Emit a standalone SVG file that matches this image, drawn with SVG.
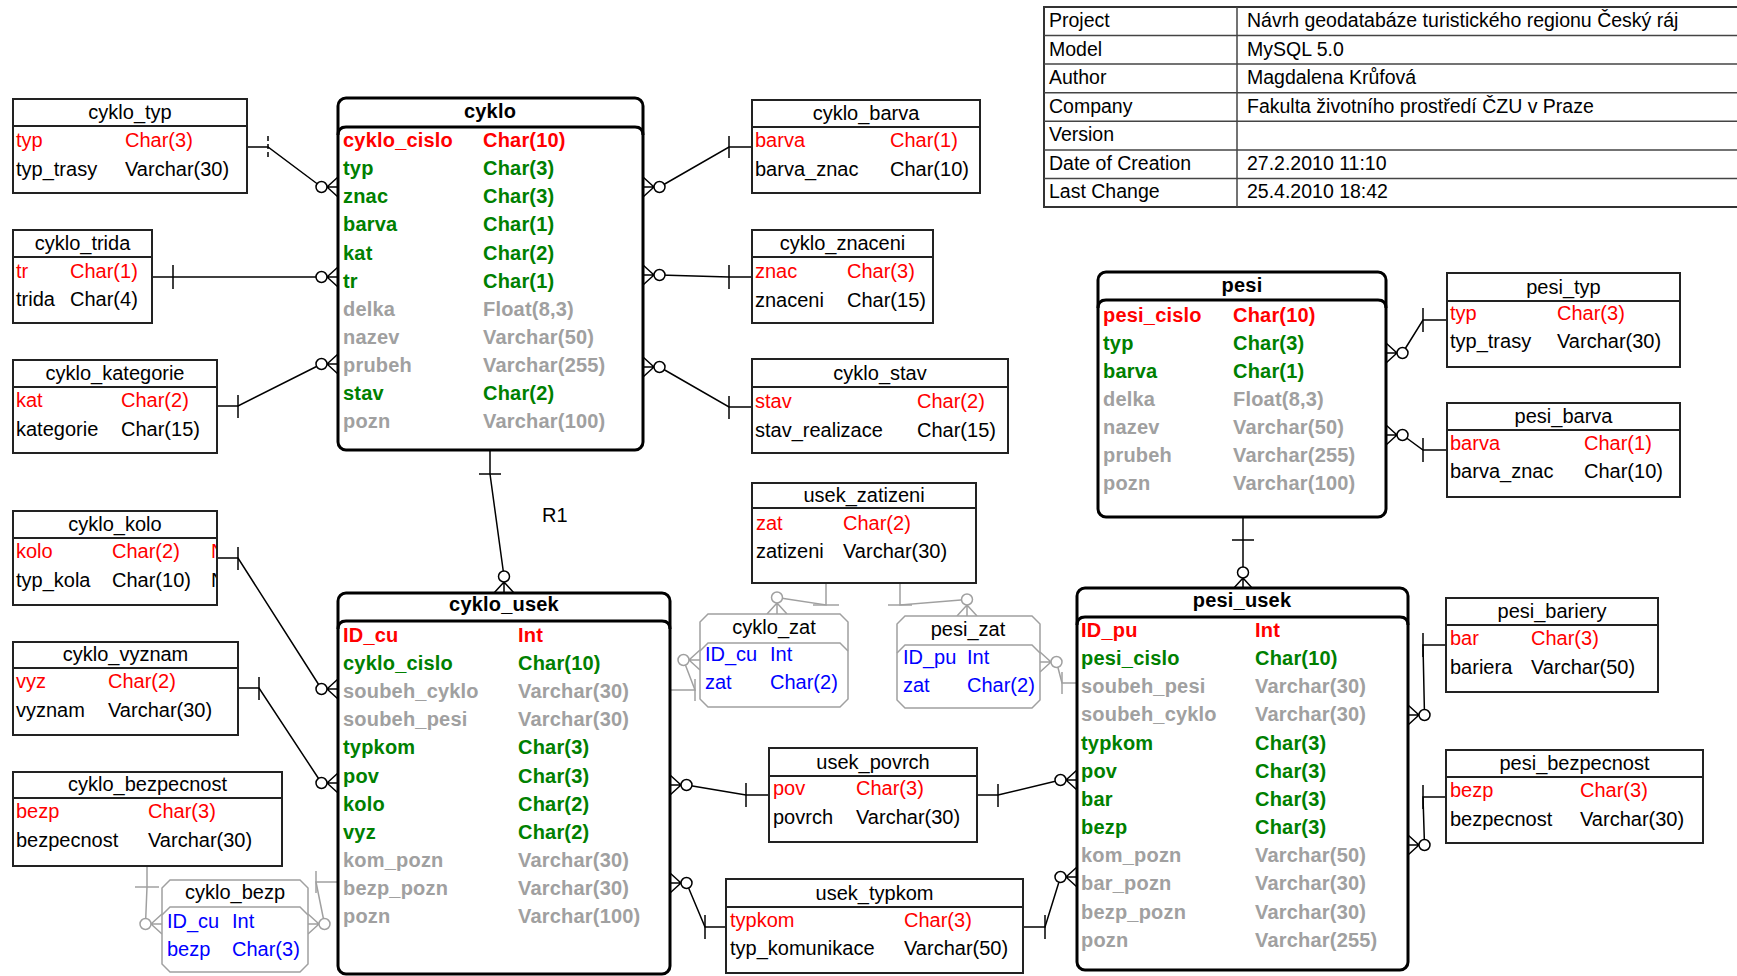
<svg xmlns="http://www.w3.org/2000/svg" xmlns:xlink="http://www.w3.org/1999/xlink" width="1737" height="976" viewBox="0 0 1737 976">
<style>
text{font-family:"Liberation Sans",Arial,sans-serif;font-size:20px;fill:#000}
.b{font-weight:bold;letter-spacing:0.2px}
.pk{fill:#ff0000}
.fk{fill:#008000}
.nk{fill:#a0a0a0}
.bl{fill:#0000ff}
.mid{text-anchor:middle}
.box{fill:#fff;stroke:#222;stroke-width:2}
.mbox{fill:#fff;stroke:#000;stroke-width:3}
.mline{fill:none;stroke:#000;stroke-width:3}
.gbox{fill:#fff;stroke:#a0a0a0;stroke-width:1.5}
.gsep{fill:none;stroke:#a0a0a0;stroke-width:1.5}
.sep{stroke:#222;stroke-width:2}
.ln{fill:none;stroke:#000;stroke-width:1.5}
.gl{fill:none;stroke:#a0a0a0;stroke-width:1.5}
.info text{font-size:19.5px}
.ig{stroke:#444;stroke-width:1.5}
</style>
<defs>
<g id="cf"><path d="M-11,0 L0,-10 M-11,0 L0,0 M-11,0 L0,10" fill="none"/><circle cx="-16.5" cy="0" r="5.5" fill="#fff"/></g>
<clipPath id="kolo-clip"><rect x="13" y="511" width="203" height="94"/></clipPath>
</defs>

<!-- info table -->
<g id="info" class="info">
<rect x="1044" y="7" width="700" height="200" fill="#fff" stroke="#333" stroke-width="2"/>
<line class="ig" x1="1237" y1="7" x2="1237" y2="207"/>
<line class="ig" x1="1044" y1="35.6" x2="1737" y2="35.6"/>
<line class="ig" x1="1044" y1="64.1" x2="1737" y2="64.1"/>
<line class="ig" x1="1044" y1="92.7" x2="1737" y2="92.7"/>
<line class="ig" x1="1044" y1="121.3" x2="1737" y2="121.3"/>
<line class="ig" x1="1044" y1="149.9" x2="1737" y2="149.9"/>
<line class="ig" x1="1044" y1="178.4" x2="1737" y2="178.4"/>
<text x="1049" y="27">Project</text><text x="1247" y="27">Návrh geodatabáze turistického regionu Český ráj</text>
<text x="1049" y="56">Model</text><text x="1247" y="56">MySQL 5.0</text>
<text x="1049" y="84">Author</text><text x="1247" y="84">Magdalena Krůfová</text>
<text x="1049" y="113">Company</text><text x="1247" y="113">Fakulta životního prostředí ČZU v Praze</text>
<text x="1049" y="141">Version</text>
<text x="1049" y="170">Date of Creation</text><text x="1247" y="170">27.2.2010 11:10</text>
<text x="1049" y="198">Last Change</text><text x="1247" y="198">25.4.2010 18:42</text>
</g>

<!-- connectors -->
<g id="connectors">
<!-- cyklo_typ -> cyklo -->
<path class="ln" d="M247,147 H268 L321.5,187"/>
<line class="ln" x1="268" y1="136" x2="268" y2="158" stroke-dasharray="5,3"/>
<use href="#cf" class="ln" transform="translate(338,187)"/>
<!-- cyklo_trida -> cyklo -->
<path class="ln" d="M152,277 H321.5"/>
<line class="ln" x1="173" y1="265" x2="173" y2="289"/>
<use href="#cf" class="ln" transform="translate(338,277)"/>
<!-- cyklo_kategorie -> cyklo -->
<path class="ln" d="M217,406 H238 L321.5,364"/>
<line class="ln" x1="238" y1="395" x2="238" y2="418"/>
<use href="#cf" class="ln" transform="translate(338,364)"/>
<!-- cyklo -> cyklo_barva -->
<path class="ln" d="M659.5,187 L729,147 H752"/>
<line class="ln" x1="729" y1="136" x2="729" y2="158"/>
<use href="#cf" class="ln" transform="translate(643,187) rotate(180)"/>
<!-- cyklo -> cyklo_znaceni -->
<path class="ln" d="M659.5,275 L729,277 H752"/>
<line class="ln" x1="729" y1="265" x2="729" y2="289"/>
<use href="#cf" class="ln" transform="translate(643,275) rotate(180)"/>
<!-- cyklo -> cyklo_stav -->
<path class="ln" d="M659.5,367 L729,407 H752"/>
<line class="ln" x1="729" y1="396" x2="729" y2="419"/>
<use href="#cf" class="ln" transform="translate(643,367) rotate(180)"/>
<!-- cyklo -> cyklo_usek (R1) -->
<path class="ln" d="M490,450 V474 L504,576.5"/>
<line class="ln" x1="479" y1="474" x2="501" y2="474"/>
<use href="#cf" class="ln" transform="translate(504,593) rotate(90)"/>
<!-- cyklo_kolo -> cyklo_usek -->
<path class="ln" d="M217,558 H238 L321.5,689"/>
<line class="ln" x1="238" y1="547" x2="238" y2="570"/>
<use href="#cf" class="ln" transform="translate(338,689)"/>
<!-- cyklo_vyznam -> cyklo_usek -->
<path class="ln" d="M238,688 H259 L321.5,783"/>
<line class="ln" x1="259" y1="677" x2="259" y2="700"/>
<use href="#cf" class="ln" transform="translate(338,783)"/>
<!-- cyklo_bezpecnost -> cyklo_bezp -->
<path class="gl" d="M147,866 V887 L145.5,924"/>
<line class="gl" x1="135" y1="887" x2="159" y2="887"/>
<use href="#cf" class="gl" transform="translate(162,924)"/>
<!-- cyklo_usek -> cyklo_bezp -->
<path class="gl" d="M338,882 H316 L324.5,924"/>
<line class="gl" x1="316" y1="871" x2="316" y2="893"/>
<use href="#cf" class="gl" transform="translate(308,924) rotate(180)"/>
<!-- usek_zatizeni -> cyklo_zat -->
<path class="gl" d="M826,583 V605 L777,597.5"/>
<line class="gl" x1="813" y1="605" x2="839" y2="605"/>
<use href="#cf" class="gl" transform="translate(777,614) rotate(90)"/>
<!-- usek_zatizeni -> pesi_zat -->
<path class="gl" d="M900,583 V605 L967,599.5"/>
<line class="gl" x1="888" y1="605" x2="912" y2="605"/>
<use href="#cf" class="gl" transform="translate(967,616) rotate(90)"/>
<!-- cyklo_usek -> cyklo_zat -->
<path class="gl" d="M670,690 H695 L683.5,660"/>
<line class="gl" x1="695" y1="679" x2="695" y2="701"/>
<use href="#cf" class="gl" transform="translate(700,660)"/>
<!-- pesi_usek -> pesi_zat -->
<path class="gl" d="M1056.5,662 L1062,683 H1077"/>
<line class="gl" x1="1062" y1="672" x2="1062" y2="694"/>
<use href="#cf" class="gl" transform="translate(1040,662) rotate(180)"/>
<!-- cyklo_usek -> usek_povrch -->
<path class="ln" d="M686.5,785 L746,795 H769"/>
<line class="ln" x1="746" y1="783" x2="746" y2="807"/>
<use href="#cf" class="ln" transform="translate(670,785) rotate(180)"/>
<!-- usek_povrch -> pesi_usek -->
<path class="ln" d="M977,795 H998 L1060.5,780"/>
<line class="ln" x1="998" y1="784" x2="998" y2="807"/>
<use href="#cf" class="ln" transform="translate(1077,780)"/>
<!-- cyklo_usek -> usek_typkom -->
<path class="ln" d="M686.5,883 L705,927 H726"/>
<line class="ln" x1="705" y1="915" x2="705" y2="939"/>
<use href="#cf" class="ln" transform="translate(670,883) rotate(180)"/>
<!-- usek_typkom -> pesi_usek -->
<path class="ln" d="M1023,927 H1045 L1060.5,877"/>
<line class="ln" x1="1045" y1="915" x2="1045" y2="939"/>
<use href="#cf" class="ln" transform="translate(1077,877)"/>
<!-- pesi -> pesi_usek -->
<path class="ln" d="M1243,517 V540 L1243,572.5"/>
<line class="ln" x1="1232" y1="540" x2="1254" y2="540"/>
<use href="#cf" class="ln" transform="translate(1243,589) rotate(90)"/>
<!-- pesi -> pesi_typ -->
<path class="ln" d="M1402.5,353 L1423,320 H1447"/>
<line class="ln" x1="1423" y1="308" x2="1423" y2="332"/>
<use href="#cf" class="ln" transform="translate(1386,353) rotate(180)"/>
<!-- pesi -> pesi_barva -->
<path class="ln" d="M1402.5,435 L1423,450 H1447"/>
<line class="ln" x1="1423" y1="438" x2="1423" y2="462"/>
<use href="#cf" class="ln" transform="translate(1386,435) rotate(180)"/>
<!-- pesi_usek -> pesi_bariery -->
<path class="ln" d="M1424.5,715 L1423,645 H1446"/>
<line class="ln" x1="1423" y1="633" x2="1423" y2="657"/>
<use href="#cf" class="ln" transform="translate(1408,715) rotate(180)"/>
<!-- pesi_usek -> pesi_bezpecnost -->
<path class="ln" d="M1424.5,845 L1423,797 H1446"/>
<line class="ln" x1="1423" y1="785" x2="1423" y2="809"/>
<use href="#cf" class="ln" transform="translate(1408,845) rotate(180)"/>
<text x="542" y="522">R1</text>
</g>

<!-- small lookup tables -->
<g id="cyklo_typ">
<rect class="box" x="13" y="99" width="234" height="94"/><line class="sep" x1="13" y1="126" x2="247" y2="126"/>
<text class="mid" x="130" y="119">cyklo_typ</text>
<text class="pk" x="16" y="147">typ</text><text class="pk" x="125" y="147">Char(3)</text>
<text x="16" y="176">typ_trasy</text><text x="125" y="176">Varchar(30)</text>
</g>
<g id="cyklo_trida">
<rect class="box" x="13" y="230" width="139" height="93"/><line class="sep" x1="13" y1="257" x2="152" y2="257"/>
<text class="mid" x="82.5" y="250">cyklo_trida</text>
<text class="pk" x="16" y="278">tr</text><text class="pk" x="70" y="278">Char(1)</text>
<text x="16" y="306">trida</text><text x="70" y="306">Char(4)</text>
</g>
<g id="cyklo_kategorie">
<rect class="box" x="13" y="360" width="204" height="93"/><line class="sep" x1="13" y1="387" x2="217" y2="387"/>
<text class="mid" x="115" y="380">cyklo_kategorie</text>
<text class="pk" x="16" y="407">kat</text><text class="pk" x="121" y="407">Char(2)</text>
<text x="16" y="436">kategorie</text><text x="121" y="436">Char(15)</text>
</g>
<g id="cyklo_kolo">
<rect class="box" x="13" y="511" width="204" height="94"/><line class="sep" x1="13" y1="538" x2="217" y2="538"/>
<text class="mid" x="115" y="531">cyklo_kolo</text>
<text class="pk" x="16" y="558">kolo</text><text class="pk" x="112" y="558">Char(2)</text>
<text x="16" y="587">typ_kola</text><text x="112" y="587">Char(10)</text>
<g clip-path="url(#kolo-clip)"><text class="pk" x="211" y="558">N</text><text x="211" y="587">N</text></g>
</g>
<g id="cyklo_vyznam">
<rect class="box" x="13" y="642" width="225" height="93"/><line class="sep" x1="13" y1="668" x2="238" y2="668"/>
<text class="mid" x="125.5" y="661">cyklo_vyznam</text>
<text class="pk" x="16" y="688">vyz</text><text class="pk" x="108" y="688">Char(2)</text>
<text x="16" y="717">vyznam</text><text x="108" y="717">Varchar(30)</text>
</g>
<g id="cyklo_bezpecnost">
<rect class="box" x="13" y="772" width="269" height="94"/><line class="sep" x1="13" y1="798" x2="282" y2="798"/>
<text class="mid" x="147.5" y="791">cyklo_bezpecnost</text>
<text class="pk" x="16" y="818">bezp</text><text class="pk" x="148" y="818">Char(3)</text>
<text x="16" y="847">bezpecnost</text><text x="148" y="847">Varchar(30)</text>
</g>
<g id="cyklo_barva">
<rect class="box" x="752" y="100" width="228" height="93"/><line class="sep" x1="752" y1="127" x2="980" y2="127"/>
<text class="mid" x="866" y="120">cyklo_barva</text>
<text class="pk" x="755" y="147">barva</text><text class="pk" x="890" y="147">Char(1)</text>
<text x="755" y="176">barva_znac</text><text x="890" y="176">Char(10)</text>
</g>
<g id="cyklo_znaceni">
<rect class="box" x="752" y="230" width="181" height="93"/><line class="sep" x1="752" y1="257" x2="933" y2="257"/>
<text class="mid" x="842.5" y="250">cyklo_znaceni</text>
<text class="pk" x="755" y="278">znac</text><text class="pk" x="847" y="278">Char(3)</text>
<text x="755" y="307">znaceni</text><text x="847" y="307">Char(15)</text>
</g>
<g id="cyklo_stav">
<rect class="box" x="752" y="359" width="256" height="94"/><line class="sep" x1="752" y1="387" x2="1008" y2="387"/>
<text class="mid" x="880" y="380">cyklo_stav</text>
<text class="pk" x="755" y="408">stav</text><text class="pk" x="917" y="408">Char(2)</text>
<text x="755" y="437">stav_realizace</text><text x="917" y="437">Char(15)</text>
</g>
<g id="usek_zatizeni">
<rect class="box" x="752" y="483" width="224" height="100"/><line class="sep" x1="752" y1="508" x2="976" y2="508"/>
<text class="mid" x="864" y="502">usek_zatizeni</text>
<text class="pk" x="756" y="530">zat</text><text class="pk" x="843" y="530">Char(2)</text>
<text x="756" y="558">zatizeni</text><text x="843" y="558">Varchar(30)</text>
</g>
<g id="usek_povrch">
<rect class="box" x="769" y="748" width="208" height="94"/><line class="sep" x1="769" y1="776" x2="977" y2="776"/>
<text class="mid" x="873" y="769">usek_povrch</text>
<text class="pk" x="773" y="795">pov</text><text class="pk" x="856" y="795">Char(3)</text>
<text x="773" y="824">povrch</text><text x="856" y="824">Varchar(30)</text>
</g>
<g id="usek_typkom">
<rect class="box" x="726" y="879" width="297" height="94"/><line class="sep" x1="726" y1="907" x2="1023" y2="907"/>
<text class="mid" x="874.5" y="900">usek_typkom</text>
<text class="pk" x="730" y="927">typkom</text><text class="pk" x="904" y="927">Char(3)</text>
<text x="730" y="955">typ_komunikace</text><text x="904" y="955">Varchar(50)</text>
</g>
<g id="pesi_typ">
<rect class="box" x="1447" y="273" width="233" height="94"/><line class="sep" x1="1447" y1="301" x2="1680" y2="301"/>
<text class="mid" x="1563.5" y="294">pesi_typ</text>
<text class="pk" x="1450" y="320">typ</text><text class="pk" x="1557" y="320">Char(3)</text>
<text x="1450" y="348">typ_trasy</text><text x="1557" y="348">Varchar(30)</text>
</g>
<g id="pesi_barva">
<rect class="box" x="1447" y="403" width="233" height="94"/><line class="sep" x1="1447" y1="430" x2="1680" y2="430"/>
<text class="mid" x="1563.5" y="423">pesi_barva</text>
<text class="pk" x="1450" y="450">barva</text><text class="pk" x="1584" y="450">Char(1)</text>
<text x="1450" y="478">barva_znac</text><text x="1584" y="478">Char(10)</text>
</g>
<g id="pesi_bariery">
<rect class="box" x="1446" y="598" width="212" height="94"/><line class="sep" x1="1446" y1="625" x2="1658" y2="625"/>
<text class="mid" x="1552" y="618">pesi_bariery</text>
<text class="pk" x="1450" y="645">bar</text><text class="pk" x="1531" y="645">Char(3)</text>
<text x="1450" y="674">bariera</text><text x="1531" y="674">Varchar(50)</text>
</g>
<g id="pesi_bezpecnost">
<rect class="box" x="1446" y="750" width="257" height="93"/><line class="sep" x1="1446" y1="777" x2="1703" y2="777"/>
<text class="mid" x="1574.5" y="770">pesi_bezpecnost</text>
<text class="pk" x="1450" y="797">bezp</text><text class="pk" x="1580" y="797">Char(3)</text>
<text x="1450" y="826">bezpecnost</text><text x="1580" y="826">Varchar(30)</text>
</g>

<!-- junction tables -->
<g id="cyklo_bezp">
<polygon class="gbox" points="170,880 300,880 308,888 308,964 300,972 170,972 162,964 162,888"/>
<path class="gsep" d="M162,915 L170,907 H300 L308,915"/>
<text class="mid" x="235" y="899">cyklo_bezp</text>
<text class="bl" x="167" y="928">ID_cu</text><text class="bl" x="232" y="928">Int</text>
<text class="bl" x="167" y="956">bezp</text><text class="bl" x="232" y="956">Char(3)</text>
</g>
<g id="cyklo_zat">
<polygon class="gbox" points="708,614 840,614 848,622 848,699 840,707 708,707 700,699 700,622"/>
<path class="gsep" d="M700,651 L708,643 H840 L848,651"/>
<text class="mid" x="774" y="634">cyklo_zat</text>
<text class="bl" x="705" y="661">ID_cu</text><text class="bl" x="770" y="661">Int</text>
<text class="bl" x="705" y="689">zat</text><text class="bl" x="770" y="689">Char(2)</text>
</g>
<g id="pesi_zat">
<polygon class="gbox" points="905,616 1032,616 1040,624 1040,700 1032,708 905,708 897,700 897,624"/>
<path class="gsep" d="M897,653 L905,645 H1032 L1040,653"/>
<text class="mid" x="968" y="636">pesi_zat</text>
<text class="bl" x="903" y="664">ID_pu</text><text class="bl" x="967" y="664">Int</text>
<text class="bl" x="903" y="692">zat</text><text class="bl" x="967" y="692">Char(2)</text>
</g>

<!-- main entities -->
<g id="cyklo">
<rect class="mbox" x="338" y="98" width="305" height="352" rx="8"/>
<path class="mline" d="M338,135 Q338,127 346,127 H635 Q643,127 643,135"/>
<text class="b mid" x="490" y="118">cyklo</text>
<text class="b pk" x="343" y="147">cyklo_cislo</text><text class="b pk" x="483" y="147">Char(10)</text>
<text class="b fk" x="343" y="175">typ</text><text class="b fk" x="483" y="175">Char(3)</text>
<text class="b fk" x="343" y="203">znac</text><text class="b fk" x="483" y="203">Char(3)</text>
<text class="b fk" x="343" y="231">barva</text><text class="b fk" x="483" y="231">Char(1)</text>
<text class="b fk" x="343" y="259.5">kat</text><text class="b fk" x="483" y="259.5">Char(2)</text>
<text class="b fk" x="343" y="287.5">tr</text><text class="b fk" x="483" y="287.5">Char(1)</text>
<text class="b nk" x="343" y="315.5">delka</text><text class="b nk" x="483" y="315.5">Float(8,3)</text>
<text class="b nk" x="343" y="343.5">nazev</text><text class="b nk" x="483" y="343.5">Varchar(50)</text>
<text class="b nk" x="343" y="372">prubeh</text><text class="b nk" x="483" y="372">Varchar(255)</text>
<text class="b fk" x="343" y="400">stav</text><text class="b fk" x="483" y="400">Char(2)</text>
<text class="b nk" x="343" y="428">pozn</text><text class="b nk" x="483" y="428">Varchar(100)</text>
</g>
<g id="cyklo_usek">
<rect class="mbox" x="338" y="593" width="332" height="381" rx="8"/>
<path class="mline" d="M338,629 Q338,621 346,621 H662 Q670,621 670,629"/>
<text class="b mid" x="504" y="611">cyklo_usek</text>
<text class="b pk" x="343" y="642">ID_cu</text><text class="b pk" x="518" y="642">Int</text>
<text class="b fk" x="343" y="670">cyklo_cislo</text><text class="b fk" x="518" y="670">Char(10)</text>
<text class="b nk" x="343" y="698">soubeh_cyklo</text><text class="b nk" x="518" y="698">Varchar(30)</text>
<text class="b nk" x="343" y="726">soubeh_pesi</text><text class="b nk" x="518" y="726">Varchar(30)</text>
<text class="b fk" x="343" y="754">typkom</text><text class="b fk" x="518" y="754">Char(3)</text>
<text class="b fk" x="343" y="782.5">pov</text><text class="b fk" x="518" y="782.5">Char(3)</text>
<text class="b fk" x="343" y="810.5">kolo</text><text class="b fk" x="518" y="810.5">Char(2)</text>
<text class="b fk" x="343" y="838.5">vyz</text><text class="b fk" x="518" y="838.5">Char(2)</text>
<text class="b nk" x="343" y="867">kom_pozn</text><text class="b nk" x="518" y="867">Varchar(30)</text>
<text class="b nk" x="343" y="895">bezp_pozn</text><text class="b nk" x="518" y="895">Varchar(30)</text>
<text class="b nk" x="343" y="923">pozn</text><text class="b nk" x="518" y="923">Varchar(100)</text>
</g>
<g id="pesi">
<rect class="mbox" x="1098" y="272" width="288" height="245" rx="8"/>
<path class="mline" d="M1098,308 Q1098,300 1106,300 H1378 Q1386,300 1386,308"/>
<text class="b mid" x="1242" y="292">pesi</text>
<text class="b pk" x="1103" y="322">pesi_cislo</text><text class="b pk" x="1233" y="322">Char(10)</text>
<text class="b fk" x="1103" y="350">typ</text><text class="b fk" x="1233" y="350">Char(3)</text>
<text class="b fk" x="1103" y="378">barva</text><text class="b fk" x="1233" y="378">Char(1)</text>
<text class="b nk" x="1103" y="406">delka</text><text class="b nk" x="1233" y="406">Float(8,3)</text>
<text class="b nk" x="1103" y="434">nazev</text><text class="b nk" x="1233" y="434">Varchar(50)</text>
<text class="b nk" x="1103" y="462">prubeh</text><text class="b nk" x="1233" y="462">Varchar(255)</text>
<text class="b nk" x="1103" y="490">pozn</text><text class="b nk" x="1233" y="490">Varchar(100)</text>
</g>
<g id="pesi_usek">
<rect class="mbox" x="1077" y="588" width="331" height="382" rx="8"/>
<path class="mline" d="M1077,625 Q1077,617 1085,617 H1400 Q1408,617 1408,625"/>
<text class="b mid" x="1242" y="607">pesi_usek</text>
<text class="b pk" x="1081" y="637">ID_pu</text><text class="b pk" x="1255" y="637">Int</text>
<text class="b fk" x="1081" y="665">pesi_cislo</text><text class="b fk" x="1255" y="665">Char(10)</text>
<text class="b nk" x="1081" y="693">soubeh_pesi</text><text class="b nk" x="1255" y="693">Varchar(30)</text>
<text class="b nk" x="1081" y="721">soubeh_cyklo</text><text class="b nk" x="1255" y="721">Varchar(30)</text>
<text class="b fk" x="1081" y="749.5">typkom</text><text class="b fk" x="1255" y="749.5">Char(3)</text>
<text class="b fk" x="1081" y="777.5">pov</text><text class="b fk" x="1255" y="777.5">Char(3)</text>
<text class="b fk" x="1081" y="806">bar</text><text class="b fk" x="1255" y="806">Char(3)</text>
<text class="b fk" x="1081" y="834">bezp</text><text class="b fk" x="1255" y="834">Char(3)</text>
<text class="b nk" x="1081" y="862">kom_pozn</text><text class="b nk" x="1255" y="862">Varchar(50)</text>
<text class="b nk" x="1081" y="890">bar_pozn</text><text class="b nk" x="1255" y="890">Varchar(30)</text>
<text class="b nk" x="1081" y="918.5">bezp_pozn</text><text class="b nk" x="1255" y="918.5">Varchar(30)</text>
<text class="b nk" x="1081" y="946.5">pozn</text><text class="b nk" x="1255" y="946.5">Varchar(255)</text>
</g>
</svg>
